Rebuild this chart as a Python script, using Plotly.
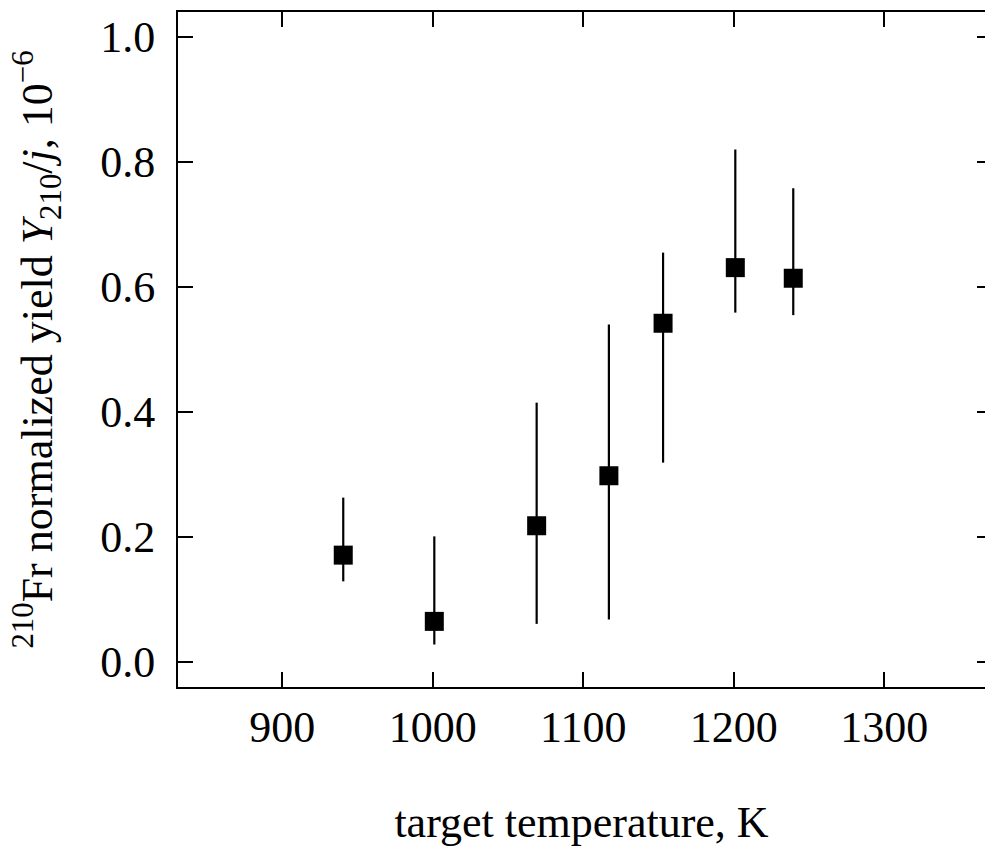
import plotly.graph_objects as go

# Data
temperature_K = [940.5, 1001, 1069, 1117, 1153, 1201, 1239.5]
yield_norm = [0.171, 0.065, 0.218, 0.298, 0.542, 0.631, 0.614]
err_upper = [0.263, 0.201, 0.415, 0.540, 0.655, 0.820, 0.758]
err_lower = [0.129, 0.028, 0.061, 0.068, 0.319, 0.559, 0.555]

x_ticks = [900, 1000, 1100, 1200, 1300]
y_ticks = [0.0, 0.2, 0.4, 0.6, 0.8, 1.0]
x_range = [830.7, 1366.9]
y_range = [-0.04, 1.04]

plus = [u - y for u, y in zip(err_upper, yield_norm)]
minus = [y - l for y, l in zip(yield_norm, err_lower)]

FONT = "Liberation Serif, Times New Roman, serif"

fig = go.Figure()
fig.add_trace(go.Scatter(
    x=temperature_K, y=yield_norm, mode="markers",
    marker=dict(symbol="square", size=19, color="black", line=dict(width=0)),
    error_y=dict(type="data", symmetric=False, array=plus, arrayminus=minus,
                 thickness=2.2, width=0, color="black"),
    showlegend=False, hoverinfo="x+y",
))
# invisible trace carrying the right-side tick axis
fig.add_trace(go.Scatter(x=[x_ticks[0]], y=[y_ticks[0]], yaxis="y2", mode="markers",
                         marker=dict(opacity=0), showlegend=False, hoverinfo="skip"))

fig.update_layout(
    width=985, height=847,
    margin=dict(l=178, r=0, t=12, b=160),
    plot_bgcolor="white", paper_bgcolor="white",
    font=dict(family=FONT, size=44, color="black"),
    xaxis=dict(
        range=x_range, tickvals=x_ticks, ticktext=[str(v) for v in x_ticks],
        ticks="inside", ticklen=15, tickwidth=2, tickcolor="black",
        showline=True, linewidth=2, linecolor="black", mirror="ticks",
        showgrid=False, zeroline=False,
        tickfont=dict(family=FONT, size=44),
        title=dict(text="target temperature, K", font=dict(family=FONT, size=44), standoff=56),
        automargin=False,
    ),
    yaxis=dict(
        range=y_range, tickvals=y_ticks, ticktext=[f"{v:.1f}" for v in y_ticks],
        ticks="inside", ticklen=15, tickwidth=2, tickcolor="black",
        showline=True, linewidth=2, linecolor="black",
        showgrid=False, zeroline=False,
        tickfont=dict(family=FONT, size=44),
        ticklabelstandoff=12,
        title=dict(text="<sup>210</sup>Fr normalized yield <i>Y</i><sub>210</sub>/<i>j</i>, 10<sup>\u22126</sup>",
                   font=dict(family=FONT, size=44), standoff=34),
        automargin=False,
    ),
    yaxis2=dict(
        overlaying="y", side="right", anchor="x",
        range=y_range, tickvals=y_ticks,
        ticks="inside", ticklen=8, tickwidth=2, tickcolor="black",
        showticklabels=False, showline=False, showgrid=False, zeroline=False,
    ),
)

fig.write_html("out.html")
